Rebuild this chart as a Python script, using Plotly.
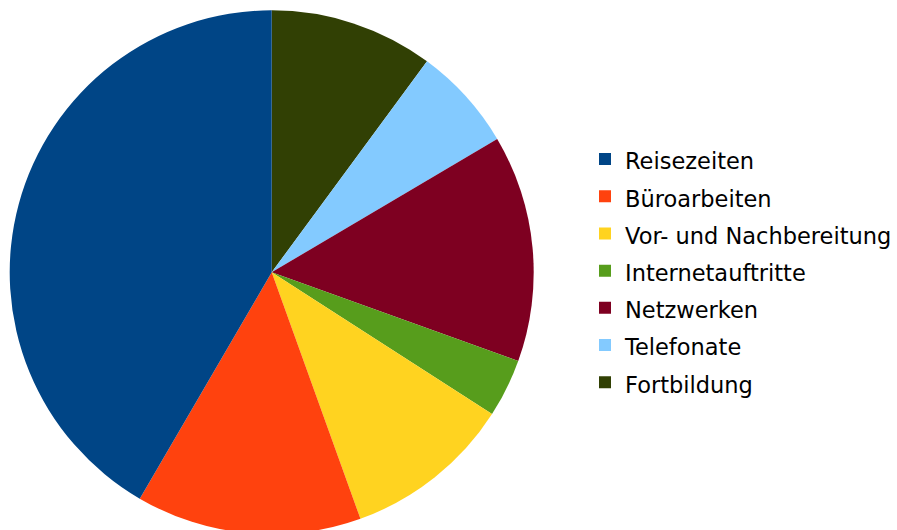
import plotly.graph_objects as go

# Zeitaufteilung nach Tätigkeit (Anteile in %)
categories = ["Reisezeiten", "Büroarbeiten", "Vor- und Nachbereitung",
              "Internetauftritte", "Netzwerken", "Telefonate", "Fortbildung"]
shares = [41.6, 13.9, 10.4, 3.6, 14.0, 6.4, 10.1]
colors = ["#004586", "#ff420e", "#ffd320", "#579d1c", "#7e0021", "#83caff", "#314004"]

W, H = 897, 540
LEGEND_FONT = 26.3   # sets the row pitch of the legend
LABEL_SIZE = 22.5    # visible size of the legend text

legend_labels = [f"<span style='font-size:{LABEL_SIZE}px'>{c}</span>" for c in categories]

# Slices run counterclockwise from 12 o'clock in category order; drawn here
# clockwise from the reversed lists, with the legend reversed back.
fig = go.Figure(go.Pie(
    labels=legend_labels[::-1],
    values=shares[::-1],
    marker=dict(colors=colors[::-1], line=dict(width=0)),
    sort=False,
    direction="clockwise",
    rotation=0,
    textinfo="none",
    hovertext=categories[::-1],
    hoverinfo="text+percent",
    domain=dict(x=[9.7 / W, 533.7 / W], y=[5.7 / H, 529.7 / H]),
))

fig.update_layout(
    width=W, height=H,
    margin=dict(l=0, r=0, t=0, b=0),
    paper_bgcolor="white",
    plot_bgcolor="white",
    legend=dict(
        x=585 / W, xanchor="left",
        y=1 - 271.0 / H, yanchor="middle",
        traceorder="reversed",
        font=dict(family="DejaVu Sans", size=LEGEND_FONT, color="#000000"),
        bgcolor="rgba(0,0,0,0)",
        borderwidth=0,
        itemclick=False,
    ),
    showlegend=True,
)

fig.write_html(
    "out.html",
    post_script="document.documentElement.style.overflow='hidden';document.body.style.overflow='hidden';",
)
